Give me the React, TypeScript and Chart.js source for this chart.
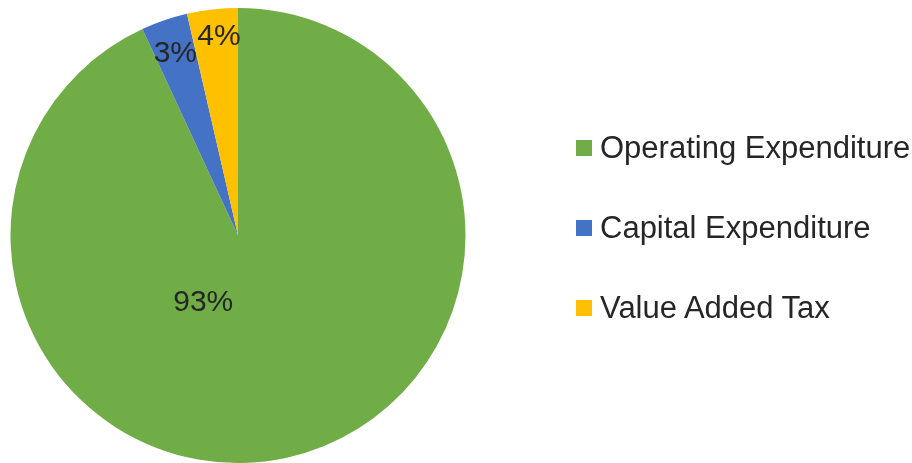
import React, { useEffect, useRef } from "react";
import { Chart, registerables } from "chart.js";

Chart.register(...registerables);

const categories: string[] = ["Operating Expenditure", "Capital Expenditure", "Value Added Tax"];
const shares: number[] = [93.1, 3.3, 3.6];
const colors: string[] = ["#70AD47", "#4472C4", "#FFC000"];
// label placement: fraction of radius along the slice bisector, plus angle offset (deg)
const labelRadial: number[] = [0.33, 0.85, 0.88];
const labelAngleShift: number[] = [40, 0, 1];

const TEXT = "#262626";
const FONT = "'Liberation Sans', Arial, sans-serif";

const pctLabels = {
  id: "pctLabels",
  afterDatasetsDraw(chart: any) {
    const ctx = chart.ctx;
    const meta = chart.getDatasetMeta(0);
    const total = shares.reduce((a, b) => a + b, 0);
    ctx.save();
    ctx.font = `30px ${FONT}`;
    ctx.fillStyle = TEXT;
    ctx.textAlign = "center";
    ctx.textBaseline = "middle";
    meta.data.forEach((arc: any, i: number) => {
      const { x, y, startAngle, endAngle, outerRadius } = arc.getProps(
        ["x", "y", "startAngle", "endAngle", "outerRadius"],
        true
      );
      const mid = (startAngle + endAngle) / 2 + (labelAngleShift[i] * Math.PI) / 180;
      const r = outerRadius * labelRadial[i];
      const txt = Math.round((shares[i] / total) * 100) + "%";
      ctx.fillText(txt, x + Math.cos(mid) * r, y + Math.sin(mid) * r + 1);
    });
    ctx.restore();
  },
};

export default function App() {
  const ref = useRef<HTMLCanvasElement | null>(null);

  useEffect(() => {
    document.body.style.margin = "0";
    if (!ref.current) return;
    const chart = new Chart(ref.current, {
      type: "pie",
      data: {
        labels: categories,
        datasets: [
          {
            data: shares,
            backgroundColor: colors,
            borderWidth: 0,
          },
        ],
      },
      options: {
        responsive: false,
        animation: false,
        layout: { padding: { left: 10, right: 446, top: 8, bottom: -1 } },
        plugins: {
          legend: { display: false },
          tooltip: { enabled: false },
        },
      },
      plugins: [pctLabels],
    });
    return () => chart.destroy();
  }, []);

  return (
    <div style={{ position: "relative", width: 912, height: 463, overflow: "hidden", background: "#fff" }}>
      <canvas ref={ref} width={912} height={463} style={{ display: "block" }} />
      <div style={{ position: "absolute", left: 576, top: 128 }}>
        {categories.map((c, i) => (
          <div
            key={c}
            style={{
              display: "flex",
              alignItems: "center",
              height: 40,
              marginBottom: 40,
              fontFamily: FONT,
              fontSize: 31,
              color: TEXT,
              whiteSpace: "nowrap",
            }}
          >
            <span style={{ display: "inline-block", width: 16, height: 16, background: colors[i], marginRight: 8 }} />
            <span>{c}</span>
          </div>
        ))}
      </div>
    </div>
  );
}
